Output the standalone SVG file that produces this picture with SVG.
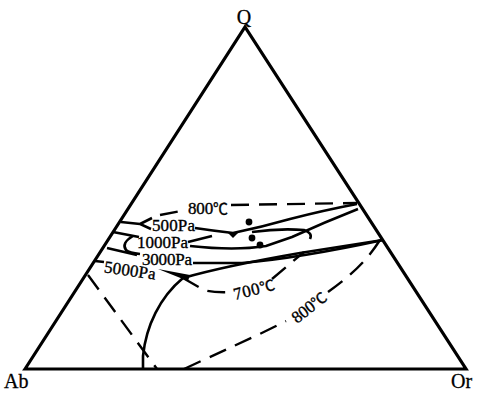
<svg xmlns="http://www.w3.org/2000/svg" width="480" height="394" viewBox="0 0 480 394">
<style>
.frame{fill:none;stroke:#000;stroke-width:3.2;stroke-linejoin:miter}
.s{fill:none;stroke:#000;stroke-width:2.6;stroke-linecap:butt}
.d{fill:none;stroke:#000;stroke-width:2.4;stroke-dasharray:18 10}
.t{font-family:"Liberation Serif","Noto Sans CJK SC",serif;font-size:17px;fill:#000;stroke:#000;stroke-width:0.35}
.c{font-family:"Noto Sans CJK SC","DejaVu Sans",sans-serif;font-size:15px}
.v{font-family:"Liberation Serif","DejaVu Serif",serif;font-size:20px;fill:#000;stroke:#000;stroke-width:0.3}
</style>
<rect width="480" height="394" fill="#fff"/>
<g id="triangle">
<polygon class="frame" points="25,369 245,27 466,369"/>
</g>
<g id="vertex-Q"><text class="v" x="244" y="24" text-anchor="middle">Q</text></g>
<g id="vertex-Ab"><text class="v" x="4" y="388">Ab</text></g>
<g id="vertex-Or"><text class="v" x="451" y="388">Or</text></g>
<g id="connectors">
<!-- 500Pa -->
<path class="s" d="M121,222 L140,224 M152,218 L140,224 L151,229"/>
<path class="s" d="M195,228 Q215,231 233,233 Q262,227 290,219 Q325,210 357,204"/>
<polygon points="227,232 239,232 233,238" fill="#000"/>
<path class="s" d="M252,232 Q280,228 304,230 Q313,233 310,239"/>
<!-- 1000Pa -->
<path class="s" d="M113,232 L139,237 M133,236 Q121,243 126,250 Q129,253 140,254"/>
<path class="s" d="M188,242 L212,236"/>
<path class="s" d="M190,246 Q235,251 266,246 L292,237 Q325,222 358,209"/>
<!-- 3000Pa -->
<path class="s" d="M107,248 L137,255"/>
<path class="s" d="M193,263 L242,263 Q300,258 383,240"/>
<!-- 5000Pa -->
<path class="s" d="M95,261 L104,262"/>
<path d="M158,269 L190,275 L188,281 Z" fill="#000"/>
<path class="s" d="M183,278 Q225,266 300,253 L383,240"/>
<!-- feldspar boundary -->
<path class="s" d="M183,278 C160,297 146,326 143,356 L143,369"/>
<!-- dashed isotherms -->
<path class="d" d="M88,275 L157,369"/>
<path class="d" d="M160,215 L181,211"/>
<path class="d" d="M231,205 L357,203"/>
<path class="d" d="M183,278 L204,290 Q214,293 232,292"/>
<path class="d" stroke-dasharray="20 8" d="M272,279 L304,252"/>
<path class="d" d="M184,369 C220,352 255,337 286,321"/>
<path class="d" d="M328,292 C350,276 366,262 380,240"/>
</g>
<g id="minima">
<circle cx="249" cy="222" r="3.4"/>
<circle cx="252" cy="238" r="3.4"/>
<circle cx="260" cy="245" r="3.4"/>
</g>
<g id="labels">
<text class="t" x="188" y="214" textLength="40">800<tspan class="c">℃</tspan></text>
<text class="t" x="152" y="231" textLength="43">500Pa</text>
<text class="t" x="137" y="248" textLength="51">1000Pa</text>
<text class="t" x="142" y="265" textLength="50">3000Pa</text>
<text class="t" x="104" y="276" textLength="52" transform="rotate(8 130 270)">5000Pa</text>
<text class="t" x="254" y="295" text-anchor="middle" textLength="42" transform="rotate(-14 254 289)">700<tspan class="c">℃</tspan></text>
<text class="t" x="309" y="313" text-anchor="middle" textLength="40" transform="rotate(-38 309 307)">800<tspan class="c">℃</tspan></text>
</g>
</svg>
